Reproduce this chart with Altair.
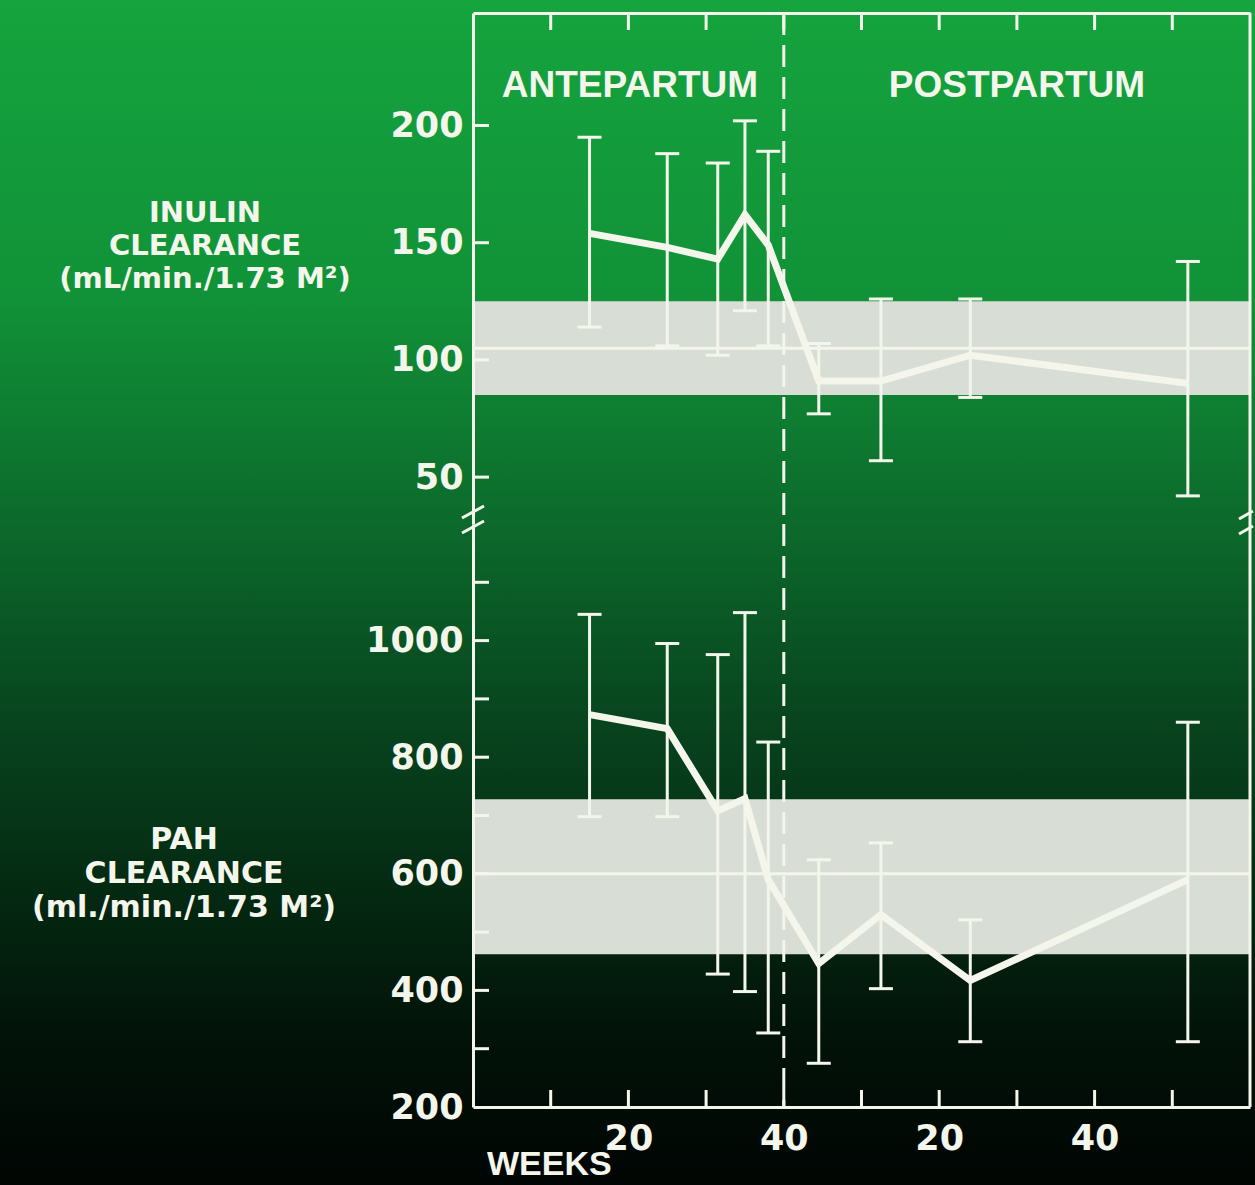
import altair as alt
import pandas as pd

# ---------------- data ----------------
# x position in weeks on a combined scale: 0-40 = antepartum weeks, 40-100 = postpartum weeks 0-60
weeks = [15, 25, 31.5, 35, 38, 44.5, 52.5, 64, 92]

inulin_mean = [154, 148, 143, 162, 149, 91, 91, 102, 90]
inulin_low = [114, 106, 102, 121, 106, 77, 57, 84, 42]
inulin_high = [195, 188, 184, 202, 189, 107, 126, 126, 142]

pah_mean = [873, 849, 708, 729, 590, 446, 530, 417, 590]
pah_low = [698, 698, 428, 398, 327, 275, 403, 312, 312]
pah_high = [1045, 995, 976, 1048, 826, 624, 653, 521, 860]

inulin_normal_low, inulin_normal_mean, inulin_normal_high = 85, 105, 125
pah_normal_low, pah_normal_mean, pah_normal_high = 462, 600, 728

x_tick_values = [10, 20, 30, 40, 50, 60, 70, 80, 90]
x_label_values = [20, 40, 60, 80]
inulin_label_values = [50, 100, 150, 200]
inulin_tick_values = [50, 100, 150, 200]
pah_label_values = [200, 400, 600, 800, 1000]
pah_tick_values = [300, 400, 500, 600, 700, 800, 900, 1000, 1100]

inulin_domain = [30, 248]
pah_domain = [200, 1200]
week_domain = [0, 100]
delivery_week = [40]
frame_week = [100]

inulin_title = ["INULIN", "CLEARANCE", "(mL/min./1.73 M²)"]
pah_title = ["PAH", "CLEARANCE", "(ml./min./1.73 M²)"]

# ---------------- styling ----------------
WHITE = "#f4f6ec"
BAND = "#d8ddd5"
NUM_FONT = "DejaVu Sans"
TXT_FONT = "Liberation Sans"
W, H1, H2 = 777, 511, 583
OX, OY = 473, 13
PAGE_W, PAGE_H = 1255, 1185

BG = {
    "gradient": "linear", "x1": 0, "y1": 0, "x2": 0, "y2": 1,
    "stops": [
        {"offset": 0.0, "color": "#15a43e"},
        {"offset": 0.25, "color": "#119238"},
        {"offset": 0.45, "color": "#0c682b"},
        {"offset": 0.60, "color": "#08461f"},
        {"offset": 0.75, "color": "#042a12"},
        {"offset": 0.87, "color": "#021309"},
        {"offset": 1.0, "color": "#010503"},
    ],
}


def x_axis(top):
    if top:
        return alt.Axis(orient="top", labels=False, ticks=False, domain=True,
                        domainColor=WHITE, domainWidth=3, grid=False, title=None, zindex=1)
    return alt.Axis(orient="bottom", values=x_label_values,
                    labelExpr="datum.value > 40 ? datum.value - 40 : datum.value",
                    ticks=False, tickSize=0, labelPadding=14, labelFont=NUM_FONT,
                    labelFontSize=35, labelFontWeight="bold", labelColor=WHITE,
                    domain=True, domainColor=WHITE, domainWidth=3, grid=False,
                    title=None, zindex=1)


def y_axis(top):
    return alt.Axis(orient="left", values=inulin_label_values if top else pah_label_values,
                    format="d", ticks=False, tickSize=0, labelPadding=10, labelFont=NUM_FONT,
                    labelFontSize=35, labelFontWeight="bold", labelColor=WHITE,
                    labelFlush=False, labelOverlap=False,
                    domain=True, domainColor=WHITE, domainWidth=3, grid=False,
                    title=None, zindex=1)


def X(field, top):
    return alt.X(f"{field}:Q", scale=alt.Scale(domain=week_domain, nice=False, zero=False),
                 axis=x_axis(top))


def Y(field, top):
    return alt.Y(f"{field}:Q",
                 scale=alt.Scale(domain=inulin_domain if top else pah_domain, nice=False, zero=False),
                 axis=y_axis(top))


def panel(top):
    H = H1 if top else H2
    if top:
        mean, low, high = inulin_mean, inulin_low, inulin_high
        nlow, nmean, nhigh = inulin_normal_low, inulin_normal_mean, inulin_normal_high
        yticks = inulin_tick_values
    else:
        mean, low, high = pah_mean, pah_low, pah_high
        nlow, nmean, nhigh = pah_normal_low, pah_normal_mean, pah_normal_high
        yticks = pah_tick_values

    df = pd.DataFrame({"week": weeks, "mean": mean, "low": low, "high": high})
    band_df = pd.DataFrame({"week": [week_domain[0]], "week_end": [week_domain[1]],
                            "low": [nlow], "high": [nhigh], "mean": [nmean]})
    layers = []
    if top:
        layers.append(
            alt.Chart(pd.DataFrame({"k": [0]})).mark_rect(color=BG).encode(
                x=alt.value(-OX), x2=alt.value(PAGE_W - OX),
                y=alt.value(-OY), y2=alt.value(PAGE_H - OY))
        )
    layers += [
        alt.Chart(band_df).mark_rect(color=BAND, opacity=1).encode(
            x=X("week", top), x2="week_end", y=Y("low", top), y2="high"),
        alt.Chart(band_df).mark_rule(color=WHITE, strokeWidth=3).encode(
            x=X("week", top), x2="week_end", y=Y("mean", top)),
        alt.Chart(df).mark_rule(color=WHITE, strokeWidth=3).encode(
            x=X("week", top), y=Y("low", top), y2="high"),
        alt.Chart(df).mark_tick(color=WHITE, orient="horizontal", size=24, thickness=3,
                                opacity=1).encode(x=X("week", top), y=Y("low", top)),
        alt.Chart(df).mark_tick(color=WHITE, orient="horizontal", size=24, thickness=3,
                                opacity=1).encode(x=X("week", top), y=Y("high", top)),
        alt.Chart(df).mark_line(color=WHITE, strokeWidth=7).encode(
            x=X("week", top), y=Y("mean", top)),
        # delivery (dashed) line
        alt.Chart(pd.DataFrame({"week": delivery_week})).mark_rule(
            color=WHITE, strokeWidth=3, strokeDash=[22, 10]).encode(
            x=X("week", top), y=alt.value(0), y2=alt.value(H)),
        # right frame edge
        alt.Chart(pd.DataFrame({"week": frame_week})).mark_rule(
            color=WHITE, strokeWidth=3).encode(
            x=X("week", top), y=alt.value(0), y2=alt.value(H)),
        # inward y ticks
        alt.Chart(pd.DataFrame({"v": yticks})).mark_rule(color=WHITE, strokeWidth=3).encode(
            y=Y("v", top), x=alt.value(0), x2=alt.value(16)),
        # inward x ticks
        alt.Chart(pd.DataFrame({"week": x_tick_values})).mark_rule(
            color=WHITE, strokeWidth=3).encode(
            x=X("week", top),
            y=alt.value(0 if top else H - 17), y2=alt.value(17 if top else H)),
    ]

    # axis break marks
    if top:
        for (x1, y1, x2, y2) in [(-11, 505, 11, 493), (-11, 520, 11, 508),
                                  (766, 506, 780, 498), (766, 521, 780, 513)]:
            layers.append(
                alt.Chart(pd.DataFrame({"k": [0]})).mark_rule(color=WHITE, strokeWidth=3).encode(
                    x=alt.value(x1), y=alt.value(y1), x2=alt.value(x2), y2=alt.value(y2)))
        # period headings
        layers.append(
            alt.Chart(pd.DataFrame({"week": [20.2, 70], "v": [217, 217],
                                    "label": ["ANTEPARTUM", "POSTPARTUM"]})).mark_text(
                color=WHITE, font=TXT_FONT, fontWeight="bold", fontSize=37,
                align="center", baseline="middle").encode(
                x=X("week", top), y=Y("v", top), text="label:N"))
        title_lines, tx, ty0, dy, fs = inulin_title, -268, 200, 33, 29
    else:
        layers.append(
            alt.Chart(pd.DataFrame({"week": [1.8], "v": [100], "label": ["WEEKS"]})).mark_text(
                color=WHITE, font=TXT_FONT, fontWeight="bold", fontSize=34,
                align="left", baseline="middle").encode(
                x=X("week", top), y=Y("v", top), text="label:N"))
        title_lines, tx, ty0, dy, fs = pah_title, -289, 316, 34, 30

    for i, line in enumerate(title_lines):
        layers.append(
            alt.Chart(pd.DataFrame({"k": [0]})).mark_text(
                text=line, color=WHITE, font=NUM_FONT, fontWeight="bold", fontSize=fs,
                align="center", baseline="middle").encode(
                x=alt.value(tx), y=alt.value(ty0 + i * dy)))

    return alt.layer(*layers).properties(width=W, height=H)


chart = alt.vconcat(panel(True), panel(False), spacing=0, bounds="flush").properties(
    padding=0, background="#062a12"
).configure_view(strokeWidth=0)

chart.save("out.html", embed_options={"renderer": "svg", "actions": False})
